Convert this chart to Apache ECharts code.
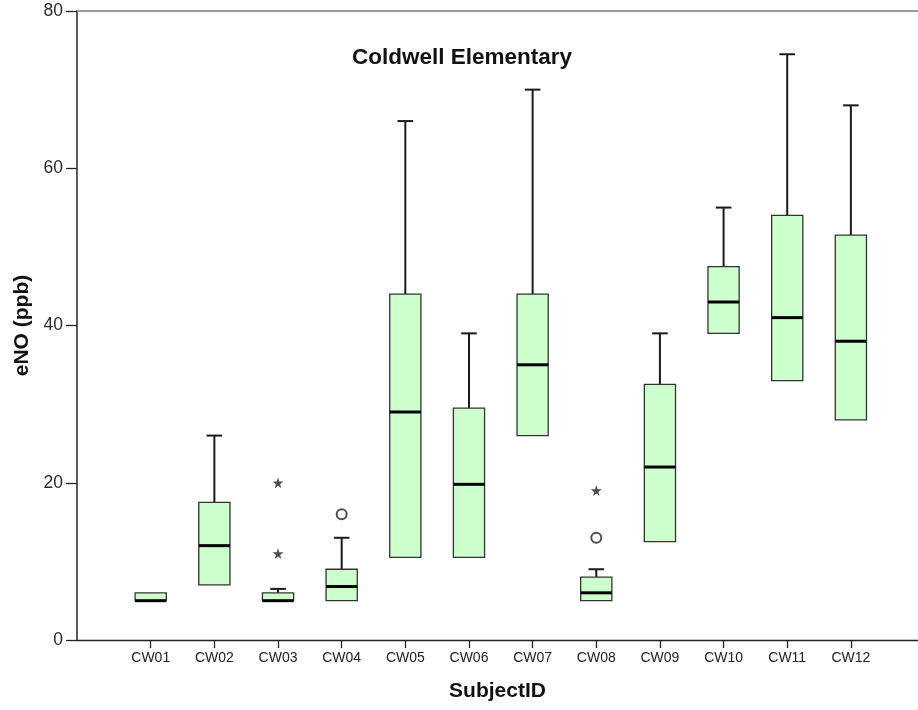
<!DOCTYPE html>
<html>
<head>
<meta charset="utf-8">
<script src="https://cdn.jsdelivr.net/npm/echarts@6/dist/echarts.min.js"></script>
<style>html,body{margin:0;padding:0;background:#fff}#c{width:918px;height:710px}</style>
</head>
<body>
<div id="c"></div>
<script>
var categories = ['CW01','CW02','CW03','CW04','CW05','CW06','CW07','CW08','CW09','CW10','CW11','CW12'];
var minV = [5, 6, 5, 5, 5, 5, 17, 5, 5, 29.5, 28, 21];
var q1V  = [5, 7, 5, 5, 10.5, 10.5, 26, 5, 12.5, 39, 33, 28];
var medV = [5, 12, 5, 6.8, 29, 19.8, 35, 6, 22, 43, 41, 38];
var q3V  = [6, 17.5, 6, 9, 44, 29.5, 44, 8, 32.5, 47.5, 54, 51.5];
var maxV = [6, 26, 6.5, 13, 66, 39, 70, 9, 39, 55, 74.5, 68];
var outlierCat = ['CW04', 'CW08'];
var outlierVal = [16, 13];
var extremeCat = ['CW03', 'CW03', 'CW08'];
var extremeVal = [20, 11, 19];
var yTicks = [0, 20, 40, 60, 80];

var FONT = '"Liberation Sans", Arial, sans-serif';
var boxData = categories.map(function (c, i) {
  return [i, minV[i], q1V[i], medV[i], q3V[i], maxV[i]];
});
var outData = outlierCat.map(function (c, i) { return [categories.indexOf(c), outlierVal[i]]; });
var extData = extremeCat.map(function (c, i) { return [categories.indexOf(c), extremeVal[i]]; });

function renderBox(params, api) {
  var x = api.value(0);
  var band = api.size([1, 0])[0];
  var bw = band * 0.49;
  var cw = bw / 2;
  var pMin = api.coord([x, api.value(1)]);
  var pQ1 = api.coord([x, api.value(2)]);
  var pMed = api.coord([x, api.value(3)]);
  var pQ3 = api.coord([x, api.value(4)]);
  var pMax = api.coord([x, api.value(5)]);
  var cx = pMed[0];
  var wStyle = { stroke: '#1a1a1a', lineWidth: 2 };
  var children = [];
  if (pQ1[1] - pMin[1] > 0.5) {
    children.push({ type: 'line', shape: { x1: cx, y1: pQ1[1], x2: cx, y2: pMin[1] }, style: wStyle });
    children.push({ type: 'line', shape: { x1: cx - cw / 2, y1: pMin[1], x2: cx + cw / 2, y2: pMin[1] }, style: wStyle });
  }
  if (pMax[1] < pQ3[1] - 0.5) {
    children.push({ type: 'line', shape: { x1: cx, y1: pQ3[1], x2: cx, y2: pMax[1] }, style: wStyle });
    children.push({ type: 'line', shape: { x1: cx - cw / 2, y1: pMax[1], x2: cx + cw / 2, y2: pMax[1] }, style: wStyle });
  }
  children.push({
    type: 'rect',
    shape: { x: cx - bw / 2, y: pQ3[1], width: bw, height: pQ1[1] - pQ3[1] },
    style: { fill: '#ccffcc', stroke: '#333333', lineWidth: 1.3 }
  });
  children.push({ type: 'line', shape: { x1: cx - bw / 2, y1: pMed[1], x2: cx + bw / 2, y2: pMed[1] }, style: { stroke: '#000', lineWidth: 3 } });
  return { type: 'group', children: children };
}

var chart = echarts.init(document.getElementById('c'), null, { renderer: 'canvas' });
chart.setOption({
  animation: false,
  backgroundColor: '#ffffff',
  title: {
    text: 'Coldwell Elementary',
    left: 347, top: 41,
    textStyle: { fontFamily: FONT, fontSize: 22.5, fontWeight: 'bold', color: '#111' }
  },
  grid: [
    { left: 77, right: 0, top: 11, bottom: 70 },
    { left: 118.9, right: 35.3, top: 11, bottom: 70 }
  ],
  xAxis: [
    {
      gridIndex: 0, type: 'value', min: 0, max: 1, position: 'bottom',
      axisLine: { show: true, lineStyle: { color: '#222', width: 1.3 } },
      axisTick: { show: false }, axisLabel: { show: false }, splitLine: { show: false },
      name: 'SubjectID', nameLocation: 'middle', nameGap: 41,
      nameTextStyle: { fontFamily: FONT, fontSize: 21, fontWeight: 'bold', color: '#111' }
    },
    {
      gridIndex: 0, type: 'value', min: 0, max: 1, position: 'top',
      axisLine: { show: true, lineStyle: { color: '#999', width: 2 } },
      axisTick: { show: false }, axisLabel: { show: false }, splitLine: { show: false }
    },
    {
      gridIndex: 1, type: 'category', data: categories, boundaryGap: true,
      axisLine: { show: false },
      axisTick: { show: true, alignWithLabel: true, length: 8, lineStyle: { color: '#222', width: 1.3 } },
      axisLabel: { fontFamily: FONT, fontSize: 14, color: '#222', margin: 11 },
      splitLine: { show: false }
    }
  ],
  yAxis: [
    {
      gridIndex: 0, type: 'value', min: 0, max: 80, interval: 20,
      axisLine: { show: true, lineStyle: { color: '#222', width: 1.5 } },
      axisTick: { show: true, length: 11, lineStyle: { color: '#222', width: 1.3 } },
      axisLabel: {
        fontFamily: FONT, fontSize: 17.5, color: '#2a2a2a', margin: 14,
        formatter: function (v) { return yTicks.indexOf(v) >= 0 ? String(v) : ''; }
      },
      splitLine: { show: false },
      name: 'eNO (ppb)', nameLocation: 'middle', nameGap: 44,
      nameTextStyle: { fontFamily: FONT, fontSize: 21, fontWeight: 'bold', color: '#111' }
    },
    {
      gridIndex: 1, type: 'value', min: 0, max: 80, interval: 20, show: false
    }
  ],
  series: [
    {
      type: 'custom', xAxisIndex: 2, yAxisIndex: 1,
      renderItem: renderBox,
      encode: { x: 0, y: [1, 2, 3, 4, 5] },
      data: boxData, z: 2
    },
    {
      type: 'scatter', xAxisIndex: 2, yAxisIndex: 1,
      symbol: 'emptyCircle', symbolSize: 10,
      itemStyle: { color: '#222', borderColor: '#222', borderWidth: 2 },
      data: outData, z: 3
    },
    {
      type: 'scatter', xAxisIndex: 2, yAxisIndex: 1,
      symbol: 'path://M50,0 L61,35 L98,35 L68,57 L79,91 L50,70 L21,91 L32,57 L2,35 L39,35 Z',
      symbolSize: 11,
      itemStyle: { color: '#222' },
      data: extData, z: 3
    }
  ]
});
</script>
</body>
</html>
